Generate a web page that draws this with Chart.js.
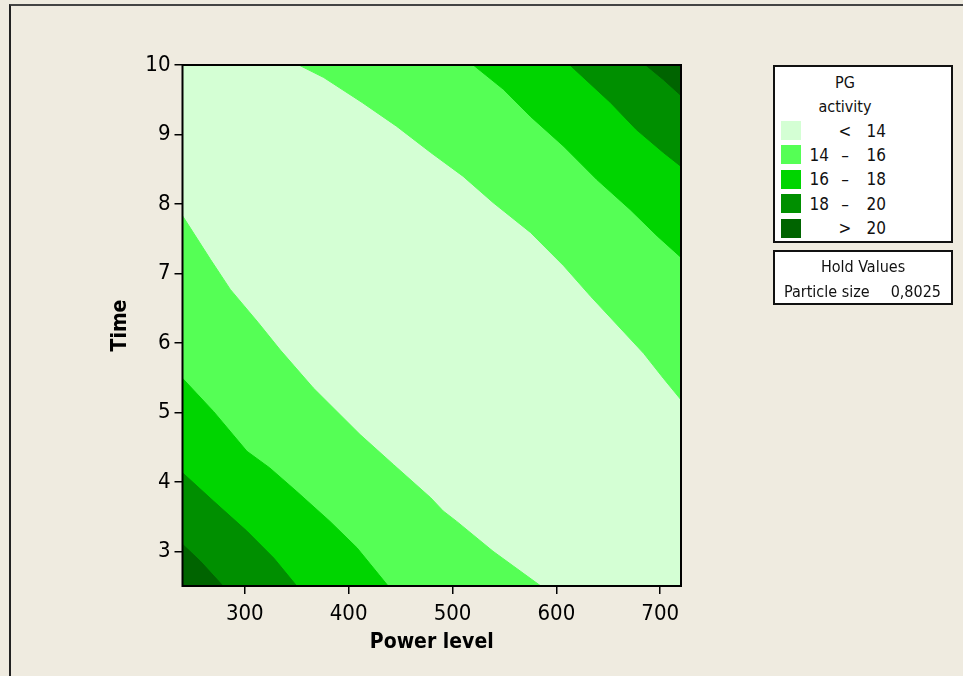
<!DOCTYPE html>
<html>
<head>
<meta charset="utf-8">
<script src="https://cdn.jsdelivr.net/npm/chart.js@4.4.1/dist/chart.umd.min.js"></script>
<style>
  body { margin: 0; background: #EFEBE0; }
  #wrap { position: relative; width: 963px; height: 676px; overflow: hidden; background: #EFEBE0; }
  #frame { position: absolute; left: 9px; top: 4px; right: -4px; bottom: -4px; border-left: 2px solid #222; border-top: 2px solid #444; }
  #myChart { position: absolute; left: 0; top: 0; }
  .box { position: absolute; background: #fff; border: 2px solid #111; box-sizing: border-box; }
  .t { position: absolute; white-space: nowrap; line-height: 16px; height: 16px;
       font-family: 'DejaVu Sans Condensed', 'DejaVu Sans', sans-serif; font-size: 16px; color: #111; }
  .t.big { font-size: 17px; }
  .sw { position: absolute; width: 20px; height: 19px; }
</style>
</head>
<body>
<div id="wrap">
  <div id="frame"></div>
  <canvas id="myChart" width="963" height="676"></canvas>
  <div class="box" style="left:773px; top:65px; width:180px; height:178px;"></div>
  <div class="box" style="left:773px; top:250px; width:180px; height:55px;"></div>
  <div id="legend"></div>
</div>
<script>
// axis ticks
const powerTicks = [300, 400, 500, 600, 700];
const timeTicks = [3, 4, 5, 6, 7, 8, 9, 10];

// contour levels of PG activity and the colour of each band
const levels = [14, 16, 18, 20];
const bandColors = ["#D4FFD4", "#55FF55", "#00D500", "#008F00", "#006400"];
const bandLow = ["", "14", "16", "18", ""];
const bandMid = ["<", "\u2013", "\u2013", "\u2013", ">"];
const bandHigh = ["14", "16", "18", "20", "20"];

// contour lines [Power level, Time], upper-right and lower-left branch of each level
const edge14High = [[352, 10], [376, 9.82], [413, 9.46], [446, 9.12], [479, 8.74], [510, 8.40], [539, 8.02],
  [575, 7.59], [607, 7.11], [633, 6.67], [656, 6.30], [684, 5.85], [703, 5.49], [720, 5.18]];
const edge14Low = [[240, 7.83], [267, 7.20], [286, 6.77], [313, 6.29], [334, 5.90], [366, 5.35], [411, 4.68],
  [443, 4.25], [479, 3.77], [491, 3.58], [504, 3.43], [539, 3.00], [585, 2.5]];
const edge16High = [[520, 10], [549, 9.65], [575, 9.26], [607, 8.83], [639, 8.35], [671, 7.92], [697, 7.54], [720, 7.23]];
const edge16Low = [[240, 5.49], [270, 5.01], [302, 4.44], [324, 4.20], [350, 3.86], [382, 3.43], [408, 3.05], [438, 2.5]];
const edge18High = [[613, 10], [652, 9.46], [677, 9.07], [703, 8.74], [720, 8.54]];
const edge18Low = [[240, 4.13], [270, 3.72], [302, 3.29], [328, 2.90], [350, 2.5]];
const edge20High = [[686, 10], [703, 9.79], [720, 9.56]];
const edge20Low = [[240, 3.10], [257, 2.86], [279, 2.5]];

const holdName = "Particle size";
const holdValue = "0,8025";

const fontFamily = "'DejaVu Sans Condensed', 'DejaVu Sans', sans-serif";

// each band above a level is filled from its line to the top or bottom edge
const regions = [
  { pts: edge14High, fill: "end", band: 1 },
  { pts: edge14Low, fill: "start", band: 1 },
  { pts: edge16High, fill: "end", band: 2 },
  { pts: edge16Low, fill: "start", band: 2 },
  { pts: edge18High, fill: "end", band: 3 },
  { pts: edge18Low, fill: "start", band: 3 },
  { pts: edge20High, fill: "end", band: 4 },
  { pts: edge20Low, fill: "start", band: 4 },
];

const datasets = regions.map((r, i) => ({
  label: "PG activity > " + levels[r.band - 1],
  data: r.pts.map(([x, y]) => ({ x: x, y: y })),
  showLine: true,
  fill: r.fill,
  backgroundColor: bandColors[r.band],
  borderColor: bandColors[r.band],
  borderWidth: 1,
  pointRadius: 0,
  order: regions.length - i,
}));

// lowest band is the plot background, then a black frame round the plot
const plotFrame = {
  id: "plotFrame",
  beforeDatasetsDraw(chart) {
    const a = chart.chartArea;
    const ctx = chart.ctx;
    ctx.save();
    ctx.fillStyle = bandColors[0];
    ctx.fillRect(a.left, a.top, a.right - a.left, a.bottom - a.top);
    ctx.restore();
  },
  afterDraw(chart) {
    const a = chart.chartArea;
    const ctx = chart.ctx;
    ctx.save();
    ctx.strokeStyle = "#000";
    ctx.lineWidth = 2;
    ctx.strokeRect(a.left, a.top, a.right - a.left, a.bottom - a.top);
    ctx.restore();
  },
};

const axisGrid = { drawOnChartArea: false, drawTicks: true, tickLength: 8, color: "#000", lineWidth: 1.5 };

const config = {
  type: "scatter",
  data: { datasets: datasets },
  options: {
    responsive: false,
    animation: false,
    devicePixelRatio: 1,
    layout: { padding: { top: 65, right: 282, left: 0, bottom: 0 } },
    plugins: { legend: { display: false }, tooltip: { enabled: false } },
    scales: {
      x: {
        type: "linear",
        min: 240,
        max: 720,
        grid: axisGrid,
        border: { display: false },
        afterBuildTicks: (scale) => { scale.ticks = powerTicks.map((v) => ({ value: v })); },
        afterFit: (scale) => { scale.height = 90; },
        ticks: { color: "#000", padding: 7, font: { family: fontFamily, size: 22 } },
        title: {
          display: true, text: "Power level", color: "#000",
          font: { family: fontFamily, size: 21, weight: "bold" },
          padding: { top: 0, bottom: 21 },
        },
      },
      y: {
        type: "linear",
        min: 2.5,
        max: 10,
        grid: axisGrid,
        border: { display: false },
        afterBuildTicks: (scale) => { scale.ticks = timeTicks.map((v) => ({ value: v })); },
        afterFit: (scale) => { scale.width = 182.5; },
        ticks: { color: "#000", padding: 4, font: { family: fontFamily, size: 22 } },
        title: {
          display: true, text: "Time", color: "#000",
          font: { family: fontFamily, size: 21, weight: "bold" },
          padding: { top: 108, bottom: 0 },
        },
      },
    },
  },
  plugins: [plotFrame],
};

let myChart = new Chart(document.getElementById("myChart").getContext("2d"), config);

// legend boxes
const legend = document.getElementById("legend");
function put(text, x, y, anchor, big) {
  const el = document.createElement("div");
  el.className = big ? "t big" : "t";
  el.textContent = text;
  el.style.top = (y - 8) + "px";
  if (anchor === "l") el.style.left = x + "px";
  else if (anchor === "r") el.style.right = (963 - x) + "px";
  else { el.style.left = x + "px"; el.style.transform = "translateX(-50%)"; }
  legend.appendChild(el);
}
put("PG", 845, 83, "c");
put("activity", 845, 107, "c");
bandColors.forEach((c, i) => {
  const yc = 130.5 + i * 24.4;
  const sw = document.createElement("div");
  sw.className = "sw";
  sw.style.left = "781px";
  sw.style.top = (yc - 9.5) + "px";
  sw.style.background = c;
  legend.appendChild(sw);
  if (bandLow[i]) put(bandLow[i], 829, yc, "r", true);
  put(bandMid[i], 845, yc, "c", true);
  put(bandHigh[i], 866.5, yc, "l", true);
});
put("Hold Values", 863, 267, "c");
put(holdName, 784, 292, "l");
put(holdValue, 941, 292, "r");
</script>
</body>
</html>
